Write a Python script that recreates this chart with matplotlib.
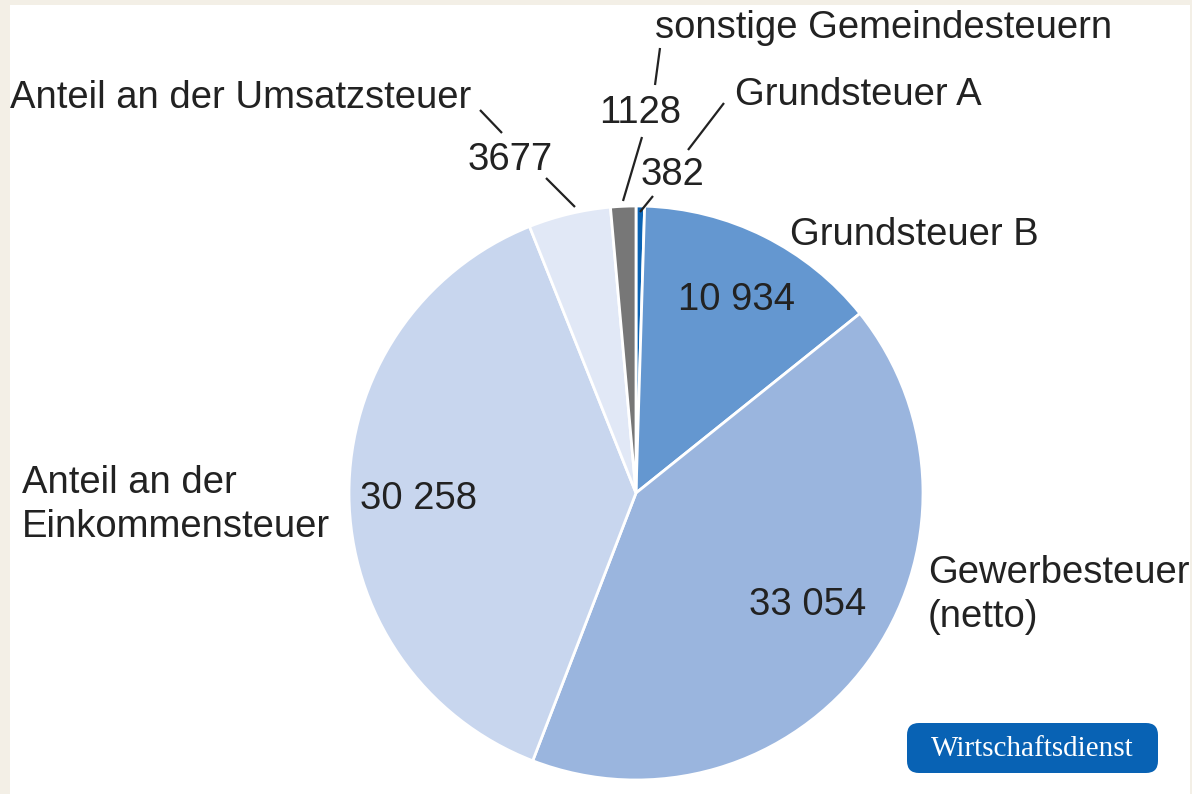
import matplotlib
matplotlib.use("Agg")
import matplotlib.pyplot as plt
from matplotlib.patches import Rectangle, FancyBboxPatch

# ---- data ----
categories = ["Grundsteuer A", "Grundsteuer B", "Gewerbesteuer\n(netto)",
              "Anteil an der\nEinkommensteuer", "Anteil an der Umsatzsteuer",
              "sonstige Gemeindesteuern"]
values = [382, 10934, 33054, 30258, 3677, 1128]
colors = ["#0b63b3", "#6497d0", "#9ab5de", "#c8d6ee", "#e1e8f6", "#777777"]

def fmt(v):
    return f"{v:,}".replace(",", " ") if v >= 10000 else str(v)

W, H = 1192, 794
fig = plt.figure(figsize=(W / 100, H / 100), dpi=100, facecolor="#f3efe6")
ax = fig.add_axes([0, 0, 1, 1])

def P(x, y):  # pixel (from top) -> data
    return (x, H - y)

ax.add_patch(Rectangle((10, 0), 1180, 789, facecolor="white", edgecolor="none", zorder=0))

cx, cy = P(636, 493)
ax.pie(values, colors=colors, startangle=90, counterclock=False,
       center=(cx, cy), radius=287,
       wedgeprops=dict(edgecolor="white", linewidth=2, zorder=2))
ax.set_xlim(0, W)
ax.set_ylim(0, H)
ax.set_aspect("equal")
ax.axis("off")

FONT = "Liberation Sans"
FS = 27.5
TC = "#222222"

# category labels: (x, y, ha)
cat_pos = [(735, 95, "left"), (790, 235, "left"), (928, 595, "left"),
           (22, 505, "left"), (10, 98, "left"), (655, 28, "left")]
# value labels
val_pos = [(672, 175), (737, 300), (808, 605), (418, 499), (510, 160), (640, 113)]

for name, (x, y, ha) in zip(categories, cat_pos):
    ax.text(*P(x, y), name, ha=ha, va="center", fontsize=FS, family=FONT,
            color=TC, linespacing=1.3, zorder=5)
for v, (x, y) in zip(values, val_pos):
    ax.text(*P(x, y), fmt(v), ha="center", va="center", fontsize=FS,
            family=FONT, color=TC, zorder=5)

# leader lines
leaders = [
    [(724, 103), (688, 150)], [(653, 196), (640, 212)],   # Grundsteuer A
    [(660, 48), (655, 85)], [(642, 137), (623, 201)],     # sonstige
    [(480, 110), (502, 133)], [(546, 178), (575, 207)],   # Umsatzsteuer
]
for seg in leaders:
    xs = [p[0] for p in seg]
    ys = [H - p[1] for p in seg]
    ax.plot(xs, ys, color=TC, lw=1.6, zorder=5, solid_capstyle="butt")

# badge
bx0, by0, bw, bh = 907, 723, 251, 50
ax.add_patch(FancyBboxPatch((bx0, H - by0 - bh), bw, bh,
                            boxstyle="round,pad=0,rounding_size=12",
                            facecolor="#0862b4", edgecolor="none", zorder=6))
ax.text(bx0 + bw / 2, H - by0 - bh / 2 - 1, "Wirtschaftsdienst", ha="center",
        va="center", fontsize=21, family="Liberation Serif", color="white", zorder=7)

fig.savefig("out.png", dpi=100, facecolor=fig.get_facecolor())
